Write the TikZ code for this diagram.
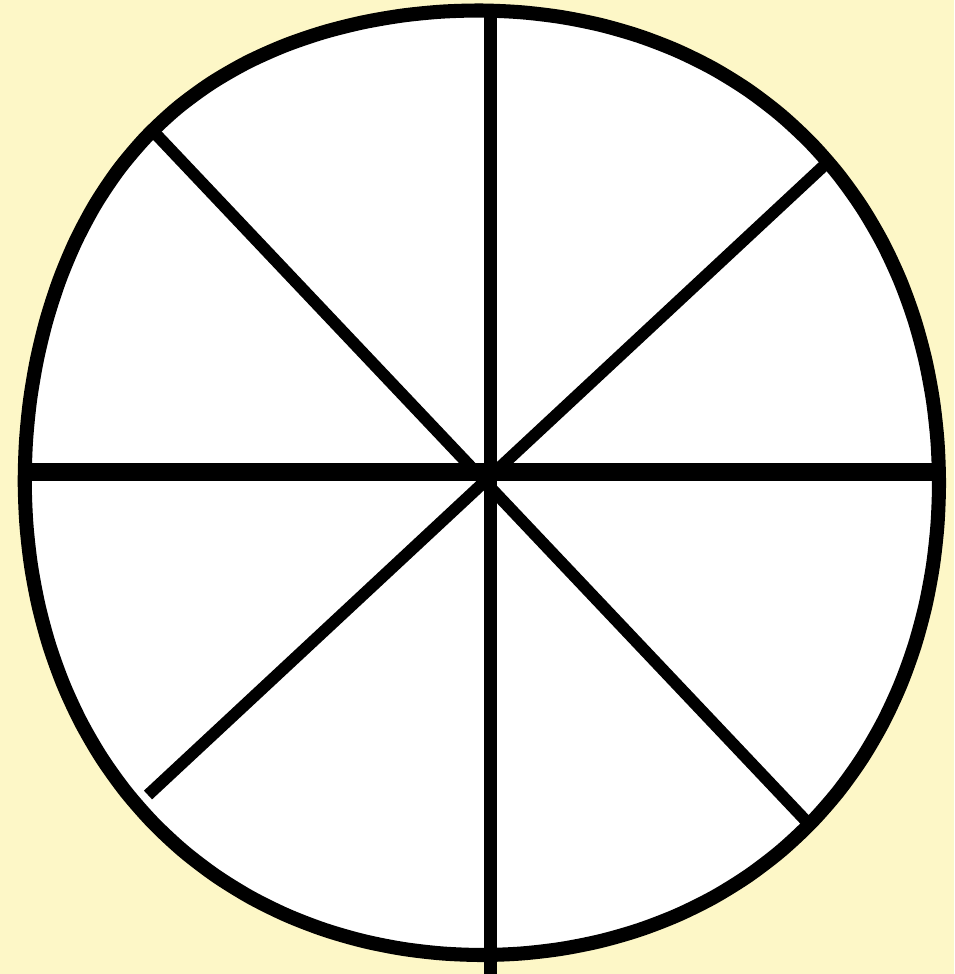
\documentclass[tikz,border=0pt]{standalone}
\usepackage{tikz}

\definecolor{paper}{RGB}{253,247,199}

\tikzset{
    rim/.style={line width=8pt, line join=round},
    spoke/.style={line width=6.8pt},
}

\begin{document}
\begin{tikzpicture}[x=0.02cm, y=-0.02cm]
        \fill[paper] (0,0) rectangle (954,974);
        \useasboundingbox (0,0) rectangle (954,974);

        \coordinate (top) at (490,10);
        \coordinate (bottom) at (490,974);
        \coordinate (left) at (28,472);
        \coordinate (right) at (936,472);
        \coordinate (ul) at (152,130);
        \coordinate (lr) at (807,822);
        \coordinate (ur) at (830,160);
        \coordinate (ll) at (148,795);

        % slightly squarish, hand drawn rim
        \draw[rim, fill=white] plot[smooth cycle, domain=0:355, samples=72]
            ({482+457*cos(\x)*(1+0.018*sin(2*\x)^2+0.02*exp(-((\x-133)/25)^2))},
             {483-472*sin(\x)*(1+0.018*sin(2*\x)^2+0.02*exp(-((\x-133)/25)^2))});

        \draw[spoke, line width=10.8pt] (left) -- (right);
        \draw[spoke, line width=7.4pt] (top) -- (bottom);
        \draw[spoke] (ul) -- (lr);
        \draw[spoke] (ur) -- (ll);
\end{tikzpicture}
\end{document}
